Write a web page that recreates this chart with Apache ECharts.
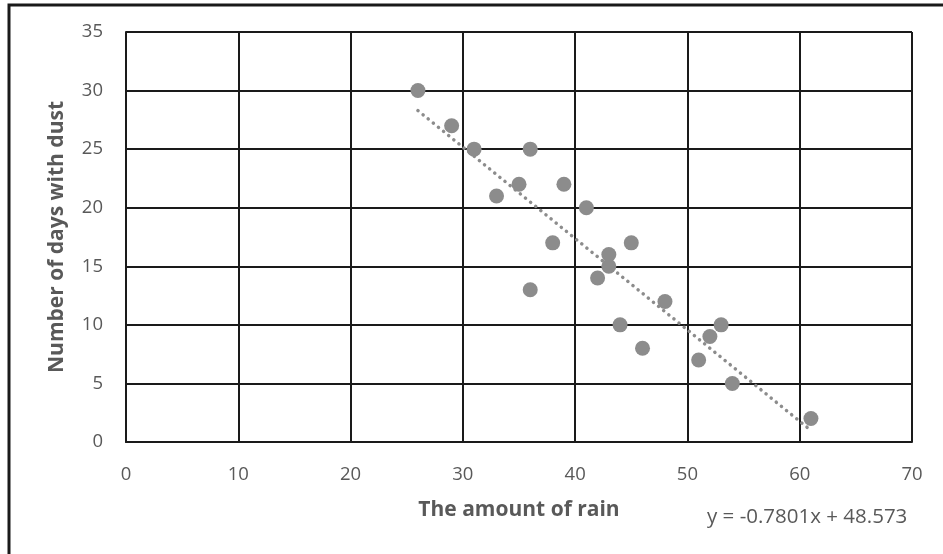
<!DOCTYPE html>
<html><head><meta charset="utf-8">
<script src="https://cdn.jsdelivr.net/npm/echarts@6/dist/echarts.min.js"></script>
<style>html,body{margin:0;padding:0;background:#fff}#c{width:943px;height:554px}</style>
</head><body><div id="c"></div>
<script>
const rain = [26,29,31,33,35,36,36,38,39,41,42,43,43,44,45,46,48,51,52,53,54,61];
const dustDays = [30,27,25,21,22,25,13,17,22,20,14,16,15,10,17,8,12,7,9,10,5,2];
const slope = -0.7801, intercept = 48.573;
const trendX = [26, 61];
const xTicks = [0,10,20,30,40,50,60,70];
const yTicks = [0,5,10,15,20,25,30,35];
const xTitle = 'The amount of rain';
const yTitle = 'Number of days with dust';
const eqText = 'y = -0.7801x + 48.573';

const pts = rain.map((x,i)=>[x,dustDays[i]]);
const trend = trendX.map(x=>[x, slope*x+intercept]);
const font = '"Open Sans", Lato, sans-serif';
const chart = echarts.init(document.getElementById('c'));
chart.setOption({
  animation:false,
  grid:{left:126,top:32,right:31,bottom:112},
  xAxis:{type:'value',min:xTicks[0],max:xTicks[xTicks.length-1],interval:xTicks[1]-xTicks[0],
    name:xTitle,nameLocation:'middle',nameGap:58,
    nameTextStyle:{fontFamily:font,fontWeight:'bold',fontSize:21,color:'#595959'},
    axisLine:{show:true,lineStyle:{color:'#1a1a1a',width:2}},axisTick:{show:false},
    axisLabel:{fontFamily:font,fontSize:18.5,color:'#595959',margin:23},
    splitLine:{show:true,lineStyle:{color:'#1a1a1a',width:2}}},
  yAxis:{type:'value',min:yTicks[0],max:yTicks[yTicks.length-1],interval:yTicks[1]-yTicks[0],
    name:yTitle,nameLocation:'middle',nameGap:58,nameRotate:90,
    nameTextStyle:{fontFamily:font,fontWeight:'bold',fontSize:21,color:'#595959'},
    axisLine:{show:true,lineStyle:{color:'#1a1a1a',width:2}},axisTick:{show:false},
    axisLabel:{fontFamily:font,fontSize:18.5,color:'#595959',margin:23},
    splitLine:{show:true,lineStyle:{color:'#1a1a1a',width:2}}},
  series:[
    {type:'line',data:trend,symbol:'none',z:3,
     lineStyle:{color:'#8c8c8c',width:3.5,type:[0.1,6.5],cap:'round'}},
    {type:'scatter',data:pts,symbolSize:15,z:4,itemStyle:{color:'#8c8c8c',opacity:1}}
  ],
  graphic:[
    {type:'rect',shape:{x:9,y:5,width:960,height:600},style:{fill:null,stroke:'#1a1a1a',lineWidth:3},z:0},
    {type:'text',left:707,top:507,style:{text:eqText,fontFamily:font,fontSize:20.5,fill:'#595959'}}
  ]
});
</script></body></html>
